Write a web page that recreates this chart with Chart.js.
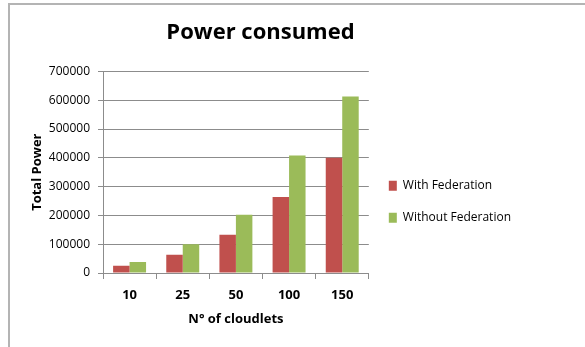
<!DOCTYPE html>
<html lang="en">
<head>
    <meta charset="UTF-8">
    <title>Power consumed</title>
    <style>
        body {
            margin: 0;
            background-color: #ffffff;
        }
        #frame {
            position: absolute;
            left: 8px;
            top: 3px;
            width: 700px;
            height: 400px;
            border: 2px solid #b4b4b4;
            box-sizing: border-box;
        }
        #chart-box {
            position: absolute;
            left: 0;
            top: 0;
            width: 585px;
            height: 347px;
        }
    </style>
</head>
<body>
    <div id="frame"></div>
    <div id="chart-box">
        <canvas id="powerChart" width="585" height="347"></canvas>
    </div>

    <script src="https://cdn.jsdelivr.net/npm/chart.js"></script>
    <script>
        // values
        const cloudlets = ['10', '25', '50', '100', '150'];
        const withFederation = [25000, 63000, 133000, 264000, 400000];
        const withoutFederation = [38000, 100000, 202000, 408000, 613000];
        const yTicks = [0, 100000, 200000, 300000, 400000, 500000, 600000, 700000];

        const fontFamily = '"Open Sans", Arial, sans-serif';
        const gridGray = '#8c8c8c';

        const ctx = document.getElementById('powerChart').getContext('2d');
        const powerChart = new Chart(ctx, {
            type: 'bar',
            data: {
                labels: cloudlets,
                datasets: [{
                    label: 'With Federation',
                    data: withFederation,
                    backgroundColor: '#C0504D'
                }, {
                    label: 'Without Federation',
                    data: withoutFederation,
                    backgroundColor: '#9BBB59'
                }]
            },
            options: {
                responsive: false,
                animation: false,
                layout: {
                    padding: { left: 0, right: 64, top: 0, bottom: 0 }
                },
                datasets: {
                    bar: {
                        categoryPercentage: 0.62,
                        barPercentage: 1.0
                    }
                },
                plugins: {
                    title: {
                        display: true,
                        text: 'Power consumed',
                        color: '#000000',
                        font: { family: fontFamily, size: 22, weight: 'bold' },
                        padding: { top: 20, bottom: 25 }
                    },
                    legend: {
                        position: 'right',
                        maxWidth: 200,
                        // empty legend title only pushes the items down a bit
                        title: {
                            display: true,
                            text: '',
                            padding: { top: 0, bottom: 42 }
                        },
                        labels: {
                            color: '#000000',
                            font: { family: fontFamily, size: 12 },
                            boxWidth: 8,
                            boxHeight: 10,
                            padding: 20
                        }
                    },
                    tooltip: { enabled: false }
                },
                scales: {
                    x: {
                        grid: {
                            display: true,
                            drawOnChartArea: false,
                            offset: true,
                            color: gridGray,
                            tickLength: 6
                        },
                        border: { color: gridGray, width: 1 },
                        ticks: {
                            color: '#000000',
                            font: { family: fontFamily, size: 13, weight: 'bold' },
                            padding: 8
                        },
                        title: {
                            display: true,
                            text: 'N° of cloudlets',
                            color: '#000000',
                            font: { family: fontFamily, size: 13, weight: 'bold' },
                            padding: { top: 4, bottom: 20 }
                        },
                        afterFit: function (scale) {
                            scale.height = 74;
                        }
                    },
                    y: {
                        min: 0,
                        max: 700000,
                        afterBuildTicks: function (scale) {
                            scale.ticks = yTicks.map(v => ({ value: v }));
                        },
                        grid: {
                            color: gridGray,
                            tickLength: 5
                        },
                        border: { color: gridGray, width: 1 },
                        ticks: {
                            color: '#000000',
                            font: { family: fontFamily, size: 12 },
                            padding: 8,
                            callback: v => String(v)
                        },
                        title: {
                            display: true,
                            text: 'Total Power',
                            color: '#000000',
                            font: { family: fontFamily, size: 13, weight: 'bold' },
                            padding: { top: 29, bottom: 0 }
                        },
                        afterFit: function (scale) {
                            scale.width = 103;
                        }
                    }
                }
            }
        });
    </script>
</body>
</html>
